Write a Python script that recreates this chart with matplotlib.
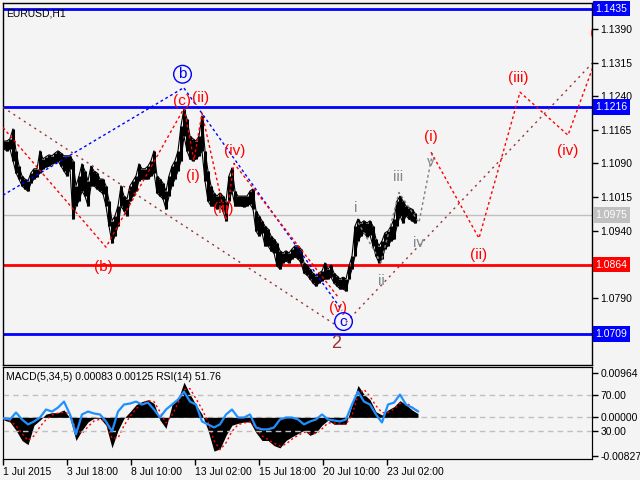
import numpy as np
import matplotlib
matplotlib.use("Agg")
import matplotlib.pyplot as plt
from matplotlib.transforms import blended_transform_factory

plt.rcParams['font.family'] = ['Liberation Sans', 'DejaVu Sans']

# --- EURUSD H1, high/low read every 3 bars (bar 0 = 1 Jul 2015 00:00) ---
price_bars = np.arange(1, 413, 3)
price_high = [1.1140, 1.1140, 1.1145, 1.1167, 1.1118, 1.1084, 1.1062, 1.1055, 1.1051, 1.1069,
              1.1078, 1.1078, 1.1118, 1.1100, 1.1105, 1.1109, 1.1107, 1.1113, 1.1118, 1.1113,
              1.1107, 1.1107, 1.1107, 1.1096, 1.1040, 1.1062, 1.1089, 1.1073, 1.1051, 1.1084,
              1.1073, 1.1069, 1.1055, 1.1055, 1.1040, 1.1006, 1.0962, 1.0973, 1.0995, 1.1040,
              1.1017, 1.1011, 1.1040, 1.1051, 1.1062, 1.1089, 1.1078, 1.1078, 1.1084, 1.1096,
              1.1118, 1.1062, 1.1055, 1.1046, 1.1028, 1.1062, 1.1084, 1.1096, 1.1118, 1.1174,
              1.1212, 1.1189, 1.1151, 1.1145, 1.1140, 1.1151, 1.1196, 1.1118, 1.1073, 1.1040,
              1.1024, 1.1017, 1.1024, 1.1017, 1.1006, 1.1062, 1.1080, 1.1028, 1.1017, 1.1017,
              1.1017, 1.1017, 1.1028, 1.1033, 1.0984, 1.0973, 1.0962, 1.0950, 1.0944, 1.0928,
              1.0921, 1.0912, 1.0895, 1.0890, 1.0895, 1.0890, 1.0899, 1.0906, 1.0906, 1.0899,
              1.0868, 1.0863, 1.0854, 1.0845, 1.0839, 1.0845, 1.0850, 1.0868, 1.0854, 1.0863,
              1.0845, 1.0839, 1.0832, 1.0836, 1.0832, 1.0861, 1.0883, 1.0950, 1.0966, 1.0957,
              1.0962, 1.0957, 1.0962, 1.0950, 1.0921, 1.0906, 1.0917, 1.0935, 1.0939, 1.0950,
              1.0966, 1.1006, 1.1017, 1.1006, 1.0995, 1.0991, 1.0988, 1.0979]
price_low = [1.1122, 1.1118, 1.1122, 1.1096, 1.1069, 1.1055, 1.1040, 1.1033, 1.1028, 1.1046,
             1.1055, 1.1060, 1.1069, 1.1078, 1.1082, 1.1084, 1.1089, 1.1091, 1.1096, 1.1084,
             1.1073, 1.1062, 1.1078, 1.0966, 1.0995, 1.1006, 1.1028, 1.1017, 1.0995, 1.1040,
             1.1040, 1.1033, 1.1028, 1.1022, 1.0995, 1.0950, 1.0912, 1.0928, 1.0950, 1.0995,
             1.0984, 1.0973, 1.1006, 1.1017, 1.1028, 1.1051, 1.1055, 1.1055, 1.1055, 1.1062,
             1.1069, 1.1024, 1.1017, 1.1011, 1.0988, 1.1017, 1.1040, 1.1055, 1.1073, 1.1096,
             1.1151, 1.1118, 1.1100, 1.1096, 1.1100, 1.1107, 1.1118, 1.1051, 1.1006, 1.0995,
             1.0995, 1.0988, 1.0995, 1.0984, 1.0962, 1.1006, 1.1028, 1.0995, 1.0995, 1.0995,
             1.0993, 1.0995, 1.0999, 1.0988, 1.0939, 1.0928, 1.0935, 1.0906, 1.0906, 1.0895,
             1.0890, 1.0861, 1.0854, 1.0868, 1.0872, 1.0868, 1.0877, 1.0881, 1.0877, 1.0868,
             1.0845, 1.0841, 1.0832, 1.0823, 1.0816, 1.0823, 1.0828, 1.0832, 1.0832, 1.0836,
             1.0823, 1.0816, 1.0810, 1.0810, 1.0805, 1.0832, 1.0854, 1.0883, 1.0917, 1.0928,
             1.0935, 1.0926, 1.0930, 1.0906, 1.0883, 1.0868, 1.0877, 1.0899, 1.0906, 1.0917,
             1.0921, 1.0950, 1.0973, 1.0957, 1.0973, 1.0966, 1.0962, 1.0957]

# --- indicator window, read every 6 bars ---
ind_bars = np.arange(1, 416, 6)
macd_main = [-0.0006, -0.0010, -0.0028, -0.0050, -0.0059, -0.0017, -0.0006, 0.0007, 0.0010, 0.0010,
             0.0016, -0.0002, -0.0050, -0.0028, -0.0010, -0.0002, -0.0002, -0.0017, -0.0066, -0.0028,
             -0.0002, 0.0012, 0.0027, 0.0034, 0.0038, 0.0030, -0.0006, -0.0024, 0.0027, 0.0038,
             0.0076, 0.0050, 0.0027, 0.0007, -0.0028, -0.0073, -0.0068, -0.0039, -0.0017, -0.0013,
             -0.0010, -0.0010, -0.0033, -0.0050, -0.0050, -0.0061, -0.0066, -0.0050, -0.0042, -0.0035,
             -0.0028, -0.0039, -0.0033, -0.0017, -0.0006, -0.0015, -0.0015, -0.0015, 0.0027, 0.0069,
             0.0050, 0.0038, 0.0012, 0.0005, 0.0016, 0.0023, 0.0036, 0.0027, 0.0016, 0.0008]
macd_signal = [-0.0004, -0.0008, -0.0018, -0.0035, -0.0050, -0.0040, -0.0020, -0.0005, 0.0005, 0.0009,
               0.0012, 0.0006, -0.0025, -0.0035, -0.0020, -0.0008, -0.0004, -0.0010, -0.0045, -0.0045,
               -0.0018, 0.0002, 0.0018, 0.0030, 0.0036, 0.0034, 0.0012, -0.0012, 0.0005, 0.0030,
               0.0060, 0.0062, 0.0040, 0.0018, -0.0010, -0.0050, -0.0070, -0.0055, -0.0030, -0.0016,
               -0.0012, -0.0010, -0.0022, -0.0040, -0.0048, -0.0056, -0.0062, -0.0058, -0.0047, -0.0039,
               -0.0032, -0.0035, -0.0035, -0.0025, -0.0012, -0.0012, -0.0015, -0.0015, 0.0005, 0.0048,
               0.0060, 0.0045, 0.0025, 0.0010, 0.0010, 0.0018, 0.0030, 0.0032, 0.0022, 0.0013]
rsi_vals = [44.1, 43.0, 50.5, 43.0, 37.6, 40.8, 45.1, 53.8, 51.6, 55.9,
            62.4, 48.4, 26.8, 48.4, 51.6, 49.5, 48.4, 40.8, 30.0, 51.6,
            59.2, 60.3, 62.4, 59.2, 61.3, 53.8, 45.1, 53.8, 59.2, 64.6,
            73.2, 62.4, 59.2, 40.8, 37.6, 34.3, 37.6, 48.4, 53.8, 45.1,
            45.1, 48.4, 34.3, 32.2, 32.2, 34.3, 43.0, 45.1, 45.1, 43.0,
            37.6, 40.8, 43.0, 48.4, 43.0, 41.9, 40.8, 43.0, 59.2, 73.2,
            62.4, 59.2, 48.4, 39.7, 59.2, 61.3, 70.0, 59.2, 55.9, 51.8]

# --- horizontal levels and axis labels ---
level_prices = [1.1435, 1.1216, 1.0975, 1.0864, 1.0709]
level_colors = ['#0000ff', '#0000ff', '#c0c0c0', '#ff0000', '#0000ff']
level_widths = [2.0, 2.0, 1.0, 2.0, 2.0]
price_ticks = [1.1390, 1.1315, 1.1240, 1.1165, 1.1090, 1.1015, 1.0940, 1.0790]
date_ticks = [0, 64, 128, 192, 256, 320, 384]
date_labels = ['1 Jul 2015', '3 Jul 18:00', '8 Jul 10:00', '13 Jul 02:00',
               '15 Jul 18:00', '20 Jul 10:00', '23 Jul 02:00']

# --- wave lines (bar, price) ---
brown_a_x, brown_a_y = [0, 333], [1.1215, 1.0729]
brown_b_x, brown_b_y = [343, 592], [1.0735, 1.1320]
red_abc_x, red_abc_y = [0, 103, 181], [1.1170, 1.0903, 1.1213]
blue_b_x, blue_b_y = [0, 180], [1.1019, 1.1258]
blue_c_x, blue_c_y = [181, 339], [1.1258, 1.0762]
red_sub_x = [181, 191, 199, 223, 231, 336]
red_sub_y = [1.1213, 1.1097, 1.1202, 1.0963, 1.1090, 1.0789]
grey_x = [355, 378, 396, 416, 430]
grey_y = [1.0958, 1.0869, 1.1025, 1.0958, 1.1119]
red_fut_x = [428, 476, 517, 565, 596]
red_fut_y = [1.1115, 1.0923, 1.1249, 1.1153, 1.1342]

# --- wave labels ---
wave_text = ['b', '(c)', '(ii)', '(i)', '(iv)', '(iii)', '(b)', '(v)', 'c', '2',
             'i', 'ii', 'iii', 'iv', 'v', '(i)', '(ii)', '(iii)', '(iv)', '(v)']
wave_x = [179.5, 179.5, 197.5, 189.5, 231.5, 220.5, 100.5, 335.5, 340.5, 333.5,
          352.5, 378.5, 395.5, 415.5, 427.5, 427.5, 475.5, 515.5, 564.5, 596]
wave_y = [1.1289, 1.1229, 1.1237, 1.1061, 1.1117, 1.0988, 1.0858, 1.0767, 1.0737, 1.0688,
          1.0990, 1.0827, 1.1059, 1.0912, 1.1092, 1.1148, 1.0885, 1.1280, 1.1117, 1.1380]
RED, BLUE, GREY, BROWN = '#ff0000', '#0000ff', '#808890', '#a0302a'
wave_color = [BLUE, RED, RED, RED, RED, RED, RED, RED, BLUE, BROWN,
              GREY, GREY, GREY, GREY, GREY, RED, RED, RED, RED, RED]

BG = '#f4f4f4'
fig = plt.figure(figsize=(6.4, 4.8), dpi=100, facecolor=BG)
W, H = 640.0, 480.0
ax = fig.add_axes([2.5 / W, 1 - 365 / H, 589.5 / W, 362 / H], facecolor=BG)
sub = fig.add_axes([2.5 / W, 1 - 459 / H, 589.5 / W, 92 / H], facecolor=BG)

# price bars
ax.vlines(price_bars, price_low, price_high, color='black', lw=2.2, zorder=3)
ax.plot(price_bars, price_high, color='black', lw=0.8, zorder=3)
ax.plot(price_bars, price_low, color='black', lw=0.8, zorder=3)
ax.set_xlim(-0.5, 589)
ax.set_ylim(1.0640, 1.1448)

for p, c, w in zip(level_prices, level_colors, level_widths):
    ax.axhline(p, color=c, lw=w, zorder=2)

dot = (0, (2, 2))
ax.plot(brown_a_x, brown_a_y, color='#993333', lw=1, ls=(0, (1.5, 3)), zorder=4)
ax.plot(brown_b_x, brown_b_y, color='#993333', lw=1, ls=(0, (1.5, 3)), zorder=4)
ax.plot(red_abc_x, red_abc_y, color=RED, lw=1, ls=dot, zorder=4)
ax.plot(blue_b_x, blue_b_y, color=BLUE, lw=1, ls=dot, zorder=4)
ax.plot(blue_c_x, blue_c_y, color=BLUE, lw=1, ls=dot, zorder=4)
ax.plot(red_sub_x, red_sub_y, color=RED, lw=1, ls=dot, zorder=4)
ax.plot(grey_x, grey_y, color='#808080', lw=1, ls=dot, zorder=4)
ax.plot(red_fut_x, red_fut_y, color=RED, lw=1, ls=dot, zorder=4)

for t, x, y, c in zip(wave_text, wave_x, wave_y, wave_color):
    size = 13 if t == '2' else 11
    kw = {}
    if c == BLUE:
        kw['bbox'] = dict(boxstyle='circle,pad=0.12', fc='none', ec=BLUE, lw=1)
    ax.text(x, y, t, color=c, fontsize=size, ha='center', va='center',
            zorder=6, clip_on=True, **kw)

ax.text(0.006, 0.985, 'EURUSD,H1', transform=ax.transAxes, fontsize=7.5,
        va='top', ha='left', color='black')

ax.yaxis.tick_right()
ax.set_yticks(price_ticks)
ax.set_yticklabels([f'{v:.4f}' for v in price_ticks])
ax.tick_params(axis='y', direction='out', length=4, width=1, labelsize=7.5, pad=2)
ax.set_xticks([])
for s in ax.spines.values():
    s.set_linewidth(1)

tr = blended_transform_factory(ax.transAxes, ax.transData)
for p, c in zip(level_prices, level_colors):
    ax.text(1.006, p, f'{p:.4f}', transform=tr, color='white', fontsize=7.5,
            ha='left', va='center', clip_on=False, zorder=10,
            bbox=dict(boxstyle='square,pad=0.25', fc=c, ec='none'))

# indicator window
rsi_ax = sub.twinx()
sub.fill_between(ind_bars, 0, macd_main, color='black', lw=0, zorder=2)
sub.plot(ind_bars, macd_signal, color=RED, lw=1, ls=(0, (1.5, 2)), zorder=3)
sub.set_ylim(-0.0090, 0.01087)
sub.set_xlim(-0.5, 589)
sub.axhline(0, color='#c0c0c0', lw=1, ls=(0, (4, 3)), zorder=1)
sub.yaxis.tick_right()
sub.set_yticks([0.00964, 0.0, -0.00827])
sub.set_yticklabels(['0.00964', '0.00000', '-0.00827'])
sub.tick_params(axis='y', which='both', left=False, labelleft=False, right=True, labelright=True,
                direction='out', length=4, width=1, labelsize=7.5, pad=2)
sub.set_xticks(date_ticks)
sub.set_xticklabels(date_labels)
sub.tick_params(axis='x', direction='out', length=4, width=1, labelsize=7.5, pad=2)
for lab in sub.get_xticklabels():
    lab.set_horizontalalignment('left')

rsi_ax.set_ylim(0, 100)
rsi_ax.set_xlim(-0.5, 589)
rsi_ax.plot(ind_bars, rsi_vals, color='#1e90ff', lw=1.6, zorder=4)
rsi_ax.axhline(70, color='#c0c0c0', lw=1, ls=(0, (4, 3)))
rsi_ax.axhline(30, color='#c0c0c0', lw=1, ls=(0, (4, 3)))
rsi_ax.set_yticks([70, 30])
rsi_ax.set_yticklabels(['70.00', '30.00'])
rsi_ax.tick_params(axis='y', direction='out', length=4, width=1, labelsize=7.5, pad=2)
rsi_ax.text(0.006, 0.95, 'MACD(5,34,5) 0.00083 0.00125 RSI(14) 51.76',
            transform=rsi_ax.transAxes, fontsize=7.5, va='top', ha='left', zorder=6)

fig.savefig('out.png', dpi=100, facecolor=BG)
